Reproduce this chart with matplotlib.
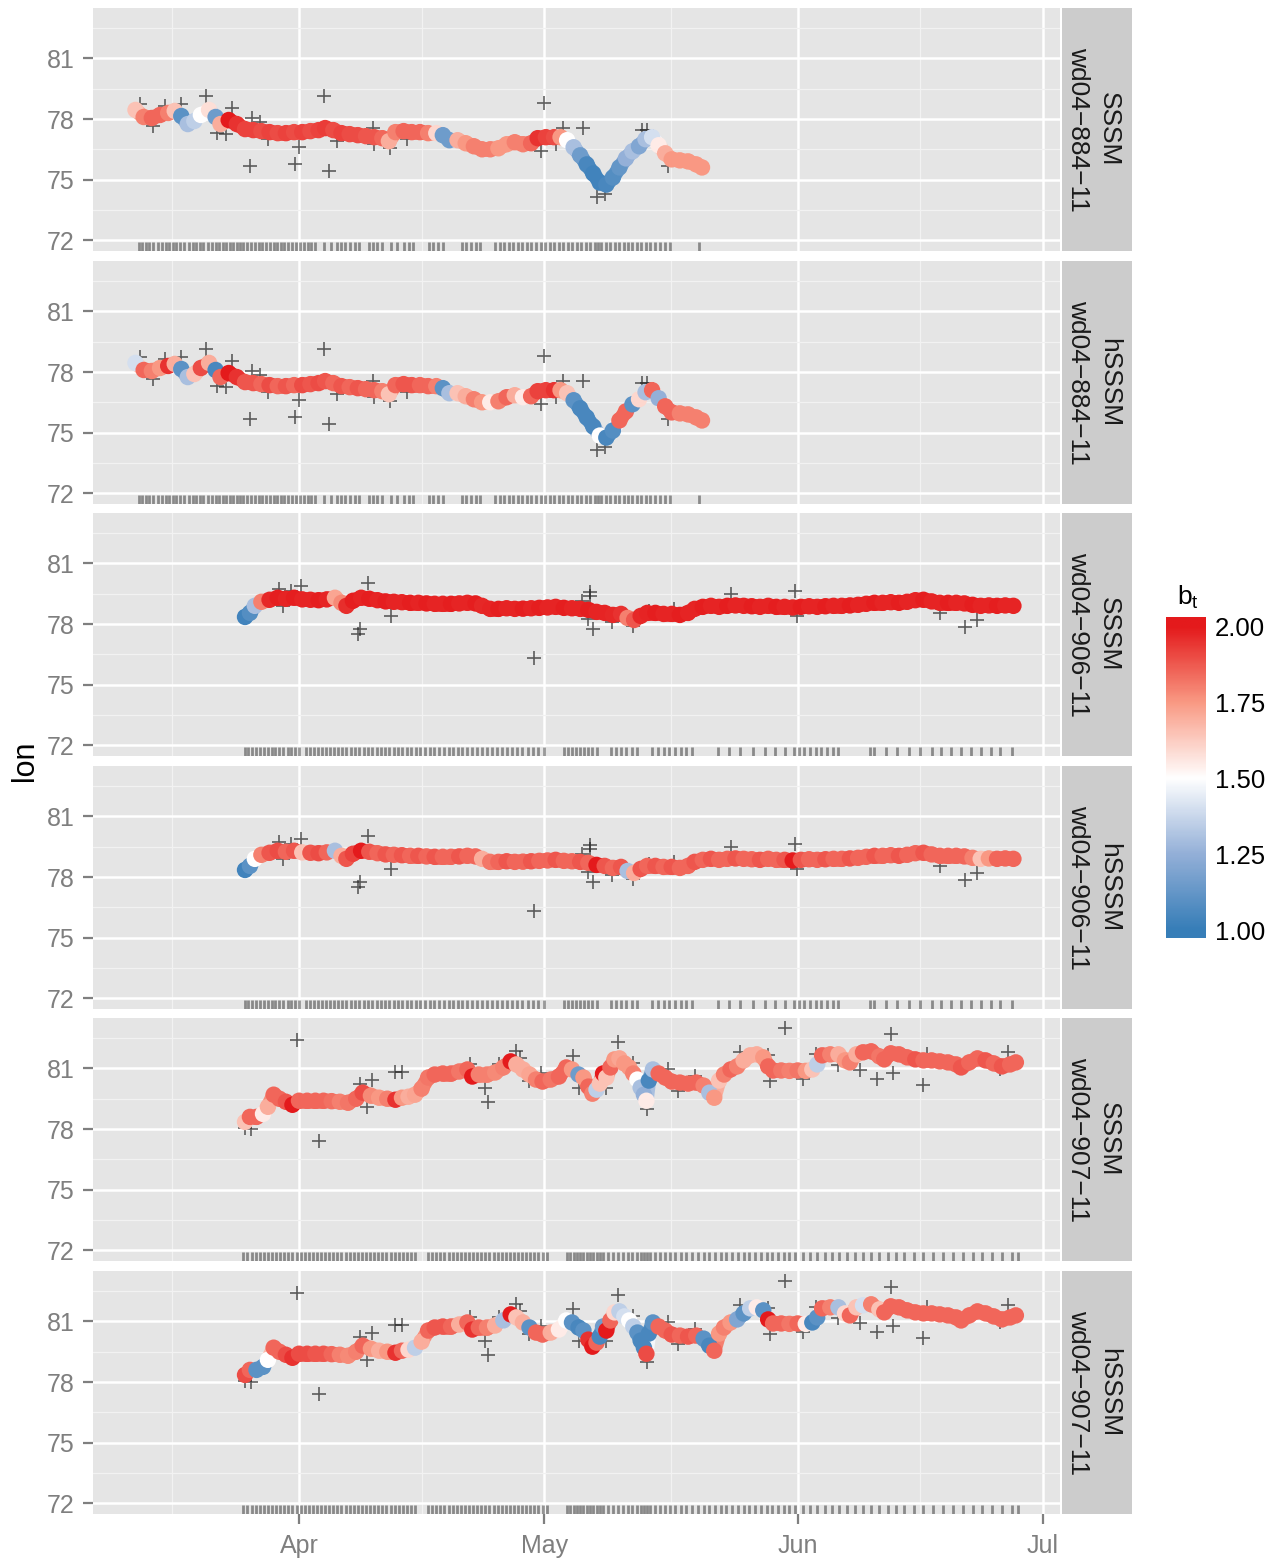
import numpy as np
import matplotlib
matplotlib.use('Agg')
import matplotlib.pyplot as plt
from matplotlib.collections import LineCollection
from matplotlib.colors import LinearSegmentedColormap, Normalize
import matplotlib.transforms as mtransforms

plt.rcParams['font.family'] = ['Liberation Sans', 'DejaVu Sans']

# days are counted from 1 April (0 = Apr 1)
month_ticks = [0, 30, 61, 91]
month_labels = ['Apr', 'May', 'Jun', 'Jul']
month_minor = [-15.5, 15, 45.5, 76]

# ---- wd04-884-11 ----
t884 = [-20.0, -19.0, -18.0, -17.0, -16.0, -15.2, -14.4, -13.6, -12.8, -12.0,
        -11.0, -10.2, -9.6, -8.6, -7.6, -6.6, -5.6, -4.6, -3.6, -2.6,
        -1.6, -0.6, 0.4, 1.4, 2.4, 3.2, 4.2, 5.2, 6.2, 7.2,
        8.2, 9.2, 10.2, 11.0, 11.8, 12.8, 13.8, 14.8, 15.8, 16.8,
        17.6, 18.4, 19.4, 20.4, 21.4, 22.4, 23.4, 24.4, 25.4, 26.4,
        27.4, 28.4, 29.2, 30.2, 31.2, 32.0, 32.8, 33.6, 34.4, 35.2,
        36.0, 36.8, 37.6, 38.4, 39.2, 40.0, 40.8, 41.6, 42.4, 43.2,
        44.0, 44.8, 45.6, 46.6, 47.6, 48.6, 49.3]
lon884 = [78.45, 78.10, 78.05, 78.20, 78.30, 78.40, 78.15, 77.75, 77.90, 78.20,
          78.45, 78.10, 77.75, 77.95, 77.75, 77.50, 77.45, 77.40, 77.35, 77.30,
          77.30, 77.35, 77.35, 77.40, 77.45, 77.55, 77.45, 77.30, 77.25, 77.20,
          77.15, 77.10, 77.05, 76.90, 77.35, 77.40, 77.35, 77.35, 77.30, 77.30,
          77.20, 76.95, 76.95, 76.80, 76.65, 76.50, 76.50, 76.55, 76.75, 76.85,
          76.75, 76.80, 77.05, 77.10, 77.10, 77.10, 76.95, 76.60, 76.20, 75.75,
          75.30, 74.85, 74.75, 75.10, 75.60, 76.05, 76.40, 76.65, 77.00, 77.10,
          76.70, 76.30, 76.00, 75.95, 75.90, 75.75, 75.60]
bt884_sssm = [1.65, 1.80, 1.85, 1.85, 1.80, 1.65, 1.10, 1.30, 1.35, 1.50,
              1.58, 1.15, 1.70, 2.00, 1.95, 1.92, 1.92, 1.90, 1.92, 1.90,
              1.92, 1.90, 1.92, 1.90, 1.92, 1.93, 1.90, 1.92, 1.90, 1.90,
              1.88, 1.88, 1.85, 1.70, 1.80, 1.85, 1.85, 1.85, 1.80, 1.60,
              1.15, 1.15, 1.70, 1.75, 1.80, 1.80, 1.80, 1.75, 1.75, 1.80,
              1.80, 1.85, 1.95, 1.92, 1.90, 1.75, 1.50, 1.30, 1.15, 1.05,
              1.03, 1.03, 1.05, 1.08, 1.12, 1.25, 1.30, 1.20, 1.30, 1.40,
              1.55, 1.70, 1.75, 1.75, 1.75, 1.75, 1.75]
bt884_hsssm = [1.40, 1.85, 1.80, 1.75, 1.95, 1.70, 1.10, 1.30, 1.65, 1.90,
               1.70, 1.05, 1.85, 2.00, 1.95, 1.88, 1.88, 1.85, 1.90, 1.85,
               1.88, 1.85, 1.90, 1.88, 1.90, 1.88, 1.85, 1.88, 1.85, 1.88,
               1.85, 1.85, 1.80, 1.65, 1.85, 1.88, 1.88, 1.85, 1.85, 1.80,
               1.10, 1.30, 1.65, 1.70, 1.80, 1.75, 1.55, 1.80, 1.85, 1.70,
               1.55, 1.85, 1.92, 1.92, 1.95, 1.75, 1.65, 1.10, 1.05, 1.05,
               1.05, 1.50, 1.05, 1.08, 1.85, 1.85, 1.10, 1.60, 1.30, 1.85,
               1.25, 1.85, 1.85, 1.80, 1.80, 1.80, 1.80]
obs884_t = [-19.5, -16.4, -17.8, -14.4, -11.4, -8.2, -10.0, -8.9, -5.8, -4.8,
            -6.0, -3.8, -0.5, 0.0, 3.1, 3.7, 4.6, 9.1, 9.2, 11.1,
            13.2, 30.0, 32.3, 34.7, 29.6, 31.4, 36.5, 37.4, 42.0, 42.6, 45.2]
obs884_lon = [78.73, 78.64, 77.65, 78.73, 79.14, 78.53, 77.33, 77.24, 78.07, 77.87,
              75.67, 77.00, 75.76, 76.62, 79.14, 75.43, 76.91, 77.57, 76.75, 76.58,
              77.00, 78.81, 77.57, 77.57, 76.42, 76.75, 74.16, 74.27, 77.45, 77.45, 75.67]
rug884 = [-19.6, -19.2, -18.7, -18.3, -17.9, -17.2, -16.8, -16.3, -15.9, -15.4,
          -15.0, -14.5, -14.1, -13.4, -13.0, -12.6, -12.1, -11.7, -11.1, -10.6,
          -10.2, -9.8, -9.3, -8.9, -8.5, -8.1, -7.6, -7.2, -6.8, -6.3,
          -5.9, -5.4, -4.9, -4.5, -4.0, -3.6, -3.1, -2.7, -2.2, -1.8,
          -1.3, -0.9, -0.4, 0.1, 0.6, 1.1, 1.5, 2.0, 3.0, 3.9,
          4.6, 5.1, 5.6, 6.2, 6.8, 7.3, 8.6, 9.1, 9.6, 10.2,
          11.2, 12.0, 12.8, 13.4, 14.0, 15.9, 16.4, 17.0, 17.6, 19.9,
          20.4, 21.0, 21.6, 22.2, 24.0, 24.6, 25.1, 25.7, 26.2, 26.8,
          27.3, 27.9, 28.4, 29.0, 29.6, 30.1, 30.7, 31.2, 31.8, 32.3,
          32.9, 33.4, 34.0, 34.5, 35.1, 35.6, 36.2, 36.6, 37.0, 37.5,
          38.0, 38.6, 39.1, 39.7, 40.2, 40.8, 41.3, 41.9, 42.5, 43.0,
          43.6, 44.2, 44.8, 45.4, 48.9]

# ---- wd04-906-11 ----
t906 = [-6.6, -6.0, -5.4, -4.6, -3.6, -2.6, -1.6, -0.6, 0.4, 1.4,
        2.4, 3.4, 4.4, 5.2, 5.8, 6.6, 7.6, 8.6, 9.6, 10.6,
        11.6, 12.6, 13.6, 14.6, 15.6, 16.6, 17.6, 18.6, 19.6, 20.6,
        21.6, 22.4, 23.4, 24.4, 25.4, 26.4, 27.4, 28.4, 29.4, 30.4,
        31.4, 32.4, 33.4, 34.4, 35.4, 36.4, 37.4, 38.4, 39.4, 40.2,
        41.0, 41.8, 42.6, 43.6, 44.6, 45.6, 46.6, 47.6, 48.4, 49.4,
        50.4, 51.4, 52.4, 53.4, 54.4, 55.4, 56.4, 57.4, 58.4, 59.4,
        60.4, 61.4, 62.4, 63.4, 64.4, 65.4, 66.4, 67.4, 68.4, 69.4,
        70.4, 71.4, 72.4, 73.4, 74.4, 75.4, 76.4, 77.4, 78.4, 79.4,
        80.4, 81.4, 82.4, 83.4, 84.4, 85.4, 86.4, 87.4]
lon906 = [78.35, 78.55, 78.90, 79.10, 79.20, 79.30, 79.25, 79.30, 79.22, 79.20,
          79.18, 79.22, 79.30, 79.05, 78.90, 79.15, 79.30, 79.25, 79.18, 79.12,
          79.10, 79.08, 79.05, 79.05, 79.02, 79.00, 79.00, 79.00, 79.02, 79.05,
          79.02, 78.90, 78.75, 78.75, 78.78, 78.75, 78.76, 78.78, 78.80, 78.82,
          78.85, 78.80, 78.78, 78.75, 78.70, 78.60, 78.55, 78.45, 78.50, 78.30,
          78.20, 78.40, 78.55, 78.55, 78.50, 78.50, 78.45, 78.55, 78.75, 78.85,
          78.90, 78.85, 78.90, 78.92, 78.90, 78.88, 78.85, 78.90, 78.85, 78.85,
          78.82, 78.85, 78.88, 78.85, 78.88, 78.90, 78.90, 78.92, 78.95, 79.00,
          79.05, 79.05, 79.08, 79.05, 79.10, 79.18, 79.20, 79.12, 79.05, 79.05,
          79.05, 79.02, 78.95, 78.90, 78.92, 78.90, 78.92, 78.90]
bt906_sssm = [1.03, 1.08, 1.30, 1.80, 1.97, 1.99, 1.98, 1.99, 1.98, 1.98,
              1.99, 1.98, 1.72, 1.78, 1.96, 1.99, 1.98, 1.99, 1.98, 1.99,
              1.98, 1.98, 1.99, 1.98, 1.99, 1.98, 1.98, 1.99, 1.98, 1.98,
              1.99, 1.97, 1.98, 1.99, 1.98, 1.98, 1.99, 1.98, 1.99, 1.98,
              1.98, 1.99, 1.98, 1.98, 1.99, 1.98, 1.98, 1.97, 1.95, 1.80,
              1.88, 1.97, 1.98, 1.99, 1.98, 1.98, 1.99, 1.98, 1.98, 1.99,
              1.98, 1.98, 1.99, 1.98, 1.98, 1.99, 1.98, 1.98, 1.99, 1.98,
              1.98, 1.99, 1.98, 1.98, 1.99, 1.98, 1.98, 1.99, 1.98, 1.98,
              1.99, 1.98, 1.98, 1.99, 1.98, 1.98, 1.99, 1.98, 1.98, 1.99,
              1.98, 1.98, 1.99, 1.98, 1.98, 1.99, 1.98, 1.98]
bt906_hsssm = [1.03, 1.10, 1.50, 1.80, 1.88, 1.90, 1.85, 1.88, 1.65, 1.88,
               1.90, 1.85, 1.30, 1.70, 1.88, 1.92, 2.00, 1.88, 1.85, 1.88,
               1.85, 1.88, 1.85, 1.88, 1.85, 1.88, 1.85, 1.85, 1.88, 1.85,
               1.85, 1.70, 1.82, 1.85, 1.88, 1.85, 1.85, 1.88, 1.85, 1.85,
               1.88, 1.85, 1.85, 1.88, 1.85, 2.00, 1.88, 1.85, 1.88, 1.30,
               1.70, 1.88, 1.85, 1.88, 1.85, 1.88, 1.85, 1.85, 1.88, 1.85,
               1.88, 1.85, 1.85, 1.88, 1.85, 1.85, 1.88, 1.85, 1.85, 1.88,
               2.00, 1.88, 1.85, 1.85, 1.88, 1.85, 1.85, 1.88, 1.85, 1.85,
               1.88, 1.85, 1.85, 1.88, 1.85, 1.85, 1.88, 1.85, 1.85, 1.85,
               1.85, 1.85, 1.80, 1.65, 1.75, 1.85, 1.85, 1.85]
obs906_t = [-2.5, -1.0, 0.3, -1.9, 8.5, 7.2, 7.5, 11.2, 28.7, 35.6,
            35.6, 34.6, 35.4, 36.0, 38.3, 52.8, 60.7, 78.4, 81.5, 83.0,
            40.9, 42.8, 45.9, 60.9]
obs906_lon = [79.71, 79.63, 79.88, 78.89, 80.01, 77.49, 77.77, 78.39, 76.34, 79.58,
              79.38, 79.14, 78.27, 77.77, 78.10, 79.47, 79.66, 78.53, 77.87, 78.20,
              77.90, 78.64, 78.72, 78.39]
rug906 = [-6.6, -6.2, -5.7, -5.2, -4.8, -4.3, -3.8, -3.3, -2.9, -2.4,
          -1.9, -1.4, -1.0, -0.5, 0.0, 0.8, 1.3, 1.8, 2.3, 2.8,
          3.3, 3.8, 4.3, 4.8, 5.3, 5.8, 6.4, 6.9, 7.4, 7.9,
          8.4, 8.9, 9.5, 10.0, 10.5, 11.0, 11.6, 12.1, 12.6, 13.2,
          13.7, 14.3, 14.8, 15.4, 16.0, 16.5, 17.1, 17.7, 18.3, 18.8,
          19.4, 20.0, 20.6, 21.2, 21.8, 22.4, 23.0, 23.6, 24.2, 24.8,
          25.4, 26.0, 26.7, 27.3, 28.0, 28.6, 29.3, 30.0, 32.4, 32.9,
          33.4, 33.9, 34.4, 34.9, 35.4, 35.9, 36.4, 38.2, 38.8, 39.4,
          40.0, 40.7, 41.4, 43.2, 43.9, 44.6, 45.3, 46.0, 46.7, 47.4,
          48.1, 51.3, 52.6, 54.0, 55.5, 57.0, 58.2, 59.4, 60.6, 61.2,
          61.8, 62.5, 63.2, 63.9, 64.6, 65.3, 66.0, 69.8, 70.4, 71.8,
          73.2, 74.6, 76.0, 77.4, 78.6, 79.8, 81.0, 82.2, 83.4, 84.6,
          85.8, 87.2]

# ---- wd04-907-11 ----
t907 = [-6.6, -6.0, -5.2, -4.4, -3.8, -3.1, -2.4, -1.6, -0.8, 0.0,
        1.0, 2.0, 3.0, 4.0, 5.0, 6.0, 7.0, 7.8, 8.8, 9.8,
        10.8, 11.8, 12.6, 13.4, 14.2, 15.0, 15.8, 16.6, 17.6, 18.6,
        19.6, 20.6, 21.2, 22.0, 23.0, 24.0, 25.0, 25.9, 26.6, 27.4,
        28.2, 29.0, 29.8, 30.8, 31.8, 32.7, 33.4, 34.2, 34.8, 35.4,
        35.9, 36.4, 36.8, 37.2, 37.6, 38.1, 38.6, 39.2, 39.8, 40.4,
        40.9, 41.4, 41.8, 42.2, 42.5, 42.8, 43.3, 44.0, 44.8, 45.6,
        46.6, 47.6, 48.6, 49.5, 50.2, 50.8, 51.4, 52.0, 52.8, 53.6,
        54.4, 55.2, 56.0, 56.8, 57.4, 58.0, 59.0, 60.0, 61.0, 62.0,
        62.8, 63.4, 64.0, 65.0, 66.0, 66.8, 67.4, 68.2, 69.0, 70.0,
        71.0, 71.6, 72.4, 73.4, 74.4, 75.4, 76.4, 77.4, 78.4, 79.4,
        80.4, 81.0, 82.0, 83.0, 84.0, 85.0, 86.0, 87.0, 87.7]
lon907 = [78.35, 78.60, 78.60, 78.75, 79.10, 79.70, 79.50, 79.35, 79.20, 79.40,
          79.40, 79.40, 79.40, 79.38, 79.35, 79.30, 79.50, 79.80, 79.65, 79.55,
          79.50, 79.45, 79.55, 79.60, 79.70, 80.00, 80.55, 80.70, 80.75, 80.75,
          80.85, 80.95, 80.60, 80.70, 80.70, 80.80, 81.05, 81.35, 81.20, 80.95,
          80.70, 80.45, 80.35, 80.45, 80.60, 81.05, 80.95, 80.70, 80.55, 80.10,
          79.75, 79.95, 80.25, 80.75, 80.55, 81.05, 81.45, 81.50, 81.25, 81.05,
          80.75, 80.45, 80.05, 79.70, 79.40, 80.40, 80.95, 80.75, 80.55, 80.35,
          80.30, 80.25, 80.30, 80.15, 79.80, 79.55, 80.40, 80.70, 80.95, 81.10,
          81.40, 81.65, 81.70, 81.55, 81.10, 80.90, 80.90, 80.88, 80.90, 80.88,
          80.95, 81.20, 81.65, 81.70, 81.70, 81.40, 81.30, 81.70, 81.80, 81.85,
          81.60, 81.45, 81.75, 81.70, 81.55, 81.45, 81.40, 81.40, 81.35, 81.30,
          81.20, 81.05, 81.30, 81.50, 81.40, 81.25, 81.10, 81.20, 81.30]
bt907_sssm = [1.65, 1.85, 1.85, 1.55, 1.70, 1.85, 1.85, 1.88, 2.00, 1.85,
              1.85, 1.85, 1.85, 1.83, 1.80, 1.82, 1.85, 1.90, 1.78, 1.75,
              1.80, 1.95, 1.75, 1.70, 1.72, 1.80, 1.82, 1.85, 1.85, 1.85,
              1.82, 1.85, 2.00, 1.80, 1.80, 1.78, 1.80, 2.00, 1.70, 1.70,
              1.72, 1.80, 1.85, 1.82, 1.85, 1.85, 1.75, 1.15, 1.75, 1.85,
              1.80, 1.35, 1.65, 2.00, 1.65, 1.85, 1.75, 1.72, 1.75, 1.75,
              1.80, 1.50, 1.30, 1.25, 1.55, 1.05, 1.30, 1.85, 1.85, 1.85,
              1.85, 1.85, 1.85, 1.80, 1.30, 1.75, 1.65, 1.80, 1.85, 1.80,
              1.70, 1.70, 1.70, 1.75, 1.85, 1.85, 1.82, 1.80, 1.82, 1.75,
              1.65, 1.35, 1.85, 1.80, 1.70, 1.75, 1.80, 1.70, 1.85, 1.85,
              1.82, 1.85, 1.85, 1.85, 1.85, 1.88, 1.85, 1.85, 1.85, 1.85,
              1.85, 1.88, 1.85, 1.85, 1.88, 1.85, 1.88, 1.85, 1.85]
bt907_hsssm = [1.90, 1.85, 1.10, 1.10, 1.50, 1.85, 1.85, 1.90, 1.95, 1.90,
               1.90, 1.88, 1.88, 1.85, 1.80, 1.78, 1.80, 1.85, 1.75, 1.70,
               1.75, 1.95, 1.85, 1.60, 1.35, 1.70, 1.85, 1.88, 1.88, 1.85,
               1.70, 1.85, 1.95, 1.85, 1.80, 1.70, 1.30, 2.00, 1.65, 1.70,
               1.10, 1.85, 1.85, 1.70, 1.55, 1.50, 1.10, 1.05, 1.10, 1.95,
               2.00, 1.85, 1.05, 1.15, 2.00, 1.85, 1.60, 1.35, 1.40, 1.50,
               1.35, 1.10, 1.05, 1.05, 1.90, 1.05, 1.10, 1.85, 1.85, 1.88,
               1.85, 1.88, 1.85, 1.10, 1.05, 1.85, 1.75, 1.80, 1.75, 1.20,
               1.10, 1.35, 1.55, 1.10, 2.00, 1.85, 1.85, 1.82, 1.85, 1.55,
               1.05, 1.10, 1.85, 1.80, 1.30, 1.60, 1.85, 1.65, 1.40, 1.80,
               1.65, 1.85, 1.85, 1.85, 1.85, 1.85, 1.85, 1.85, 1.85, 1.85,
               1.85, 1.85, 1.85, 1.85, 1.85, 1.85, 1.85, 1.85, 1.85]
obs907_t = [-6.6, -5.9, -0.3, 2.5, 7.5, 8.3, 8.9, 11.8, 12.6, 20.9,
            22.7, 23.1, 24.5, 26.5, 27.0, 28.1, 29.6, 33.5, 34.3, 37.5,
            39.0, 40.9, 42.6, 45.1, 46.4, 48.4, 54.0, 57.4, 57.6, 59.4,
            61.6, 63.2, 65.9, 68.6, 70.7, 72.4, 72.7, 76.4, 76.8, 86.7, 85.8]
obs907_lon = [78.07, 77.98, 82.43, 77.41, 80.21, 79.09, 80.42, 80.82, 80.82, 81.20,
              80.04, 79.33, 81.20, 81.86, 81.53, 80.37, 80.79, 81.64, 80.04, 80.01,
              82.32, 81.28, 78.97, 80.95, 79.88, 80.62, 81.83, 81.66, 80.37, 82.98,
              80.49, 81.74, 81.15, 80.92, 80.46, 82.72, 80.79, 80.16, 81.73, 81.83, 80.95]
rug907 = [-6.8, -6.3, -5.8, -5.3, -4.8, -4.3, -3.8, -3.3, -2.8, -2.3,
          -1.8, -1.3, -0.8, -0.3, 0.2, 0.7, 1.2, 1.7, 2.2, 2.7,
          3.2, 3.7, 4.2, 4.7, 5.2, 5.7, 6.2, 6.7, 7.2, 7.7,
          8.2, 8.7, 9.2, 9.7, 10.2, 10.7, 11.2, 11.7, 12.2, 12.7,
          13.2, 13.7, 14.2, 15.8, 16.3, 16.8, 17.3, 17.8, 18.3, 18.8,
          19.3, 19.8, 20.3, 20.8, 21.3, 21.8, 22.3, 22.8, 23.3, 23.8,
          24.3, 24.8, 25.3, 25.8, 26.3, 26.8, 27.3, 27.8, 28.3, 28.8,
          29.3, 29.8, 30.3, 32.8, 33.2, 33.6, 34.0, 34.4, 34.8, 35.2,
          35.6, 36.0, 36.4, 36.8, 37.2, 37.8, 38.4, 39.0, 39.6, 40.2,
          40.8, 41.3, 41.8, 42.2, 42.6, 43.0, 43.6, 44.2, 44.8, 45.4,
          46.0, 46.7, 47.4, 48.1, 48.8, 49.5, 50.2, 50.9, 51.6, 52.3,
          53.0, 53.7, 54.4, 55.1, 55.8, 56.5, 57.2, 57.9, 58.6, 59.3,
          60.0, 60.7, 61.6, 62.5, 63.4, 64.3, 65.2, 66.1, 67.0, 68.0,
          69.0, 70.0, 71.0, 72.0, 73.0, 74.0, 75.2, 76.4, 77.6, 78.8,
          80.0, 81.2, 82.4, 83.6, 84.8, 86.0, 87.2, 88.0]

panels = [
    ('wd04\u2212884\u221211', 'SSSM', t884, lon884, bt884_sssm, obs884_t, obs884_lon, rug884),
    ('wd04\u2212884\u221211', 'hSSSM', t884, lon884, bt884_hsssm, obs884_t, obs884_lon, rug884),
    ('wd04\u2212906\u221211', 'SSSM', t906, lon906, bt906_sssm, obs906_t, obs906_lon, rug906),
    ('wd04\u2212906\u221211', 'hSSSM', t906, lon906, bt906_hsssm, obs906_t, obs906_lon, rug906),
    ('wd04\u2212907\u221211', 'SSSM', t907, lon907, bt907_sssm, obs907_t, obs907_lon, rug907),
    ('wd04\u2212907\u221211', 'hSSSM', t907, lon907, bt907_hsssm, obs907_t, obs907_lon, rug907),
]

cmap = LinearSegmentedColormap.from_list(
    'bt', [(0.0, '#377EB8'), (0.25, '#94B0D8'), (0.5, '#FFFFFF'),
           (0.75, '#F99A84'), (1.0, '#E41A1C')])
norm = Normalize(1.0, 2.0)

W, H = 1285, 1562
fig = plt.figure(figsize=(W / 100, H / 100), dpi=100)

tops = [8, 261, 513, 766, 1018, 1271]
ph = 243
x0, x1 = 93, 1060
sx0, sx1 = 1062, 1132
tick_grey = '#7F7F7F'

for i, (animal, model, t, lon, bt, ot, olon, rug) in enumerate(panels):
    top = tops[i]
    ax = fig.add_axes([x0 / W, 1 - (top + ph) / H, (x1 - x0) / W, ph / H])
    ax.set_facecolor('#E5E5E5')
    for s in ax.spines.values():
        s.set_visible(False)
    ax.set_xlim(-25.2, 93.1)
    ax.set_ylim(71.46, 83.5)
    ax.set_xticks(month_ticks)
    ax.set_xticks(month_minor, minor=True)
    ax.set_yticks([72, 75, 78, 81])
    ax.set_yticks([73.5, 76.5, 79.5, 82.5], minor=True)
    ax.grid(which='major', color='white', lw=1.8)
    ax.grid(which='minor', color='#F2F2F2', lw=0.9)
    ax.set_axisbelow(True)
    ax.tick_params(axis='y', which='major', length=7.5, width=1.6, color=tick_grey,
                   labelsize=18, labelcolor=tick_grey, pad=6)
    ax.tick_params(which='minor', length=0)
    if i == len(panels) - 1:
        ax.set_xticklabels(month_labels)
        ax.tick_params(axis='x', which='major', length=7.5, width=1.6, color=tick_grey,
                       labelsize=18, labelcolor=tick_grey, pad=7)
    else:
        ax.tick_params(axis='x', which='major', length=0, labelbottom=False)

    # observations
    ax.plot(ot, olon, linestyle='none', marker='+', ms=9.5, mew=1.2,
            color='#222222', alpha=0.7, zorder=2)

    # rug of observation times
    trans = mtransforms.blended_transform_factory(ax.transData, ax.transAxes)
    ax.vlines(rug, 0, 0.036, transform=trans, color='black', alpha=0.4, lw=2.0, zorder=2)

    # fitted track coloured by b_t
    t = np.asarray(t)
    lon = np.asarray(lon)
    bt = np.asarray(bt)
    pts = np.column_stack([t, lon])
    segs = np.stack([pts[:-1], pts[1:]], axis=1)
    seg_col = cmap(norm((bt[:-1] + bt[1:]) / 2))
    lc = LineCollection(segs, colors=seg_col, linewidths=10.5, capstyle='round', zorder=3)
    ax.add_collection(lc)
    ax.scatter(t, lon, c=bt, cmap=cmap, norm=norm, s=140, edgecolors='none', zorder=4)

    # facet strip
    sax = fig.add_axes([sx0 / W, 1 - (top + ph) / H, (sx1 - sx0) / W, ph / H])
    sax.set_facecolor('#CCCCCC')
    sax.set_xticks([])
    sax.set_yticks([])
    for s in sax.spines.values():
        s.set_visible(False)
    sax.text(0.45, 0.5, model + '\n' + animal, rotation=-90, ha='center', va='center',
             multialignment='center', fontsize=19, color='#1A1A1A',
             linespacing=1.35, transform=sax.transAxes)

fig.text(25 / W, 1 - 761 / H, 'lon', rotation=90, ha='center', va='center', fontsize=22)

# colour bar legend
cax = fig.add_axes([1166 / W, 1 - 938 / H, 40 / W, 321 / H])
grad = np.linspace(0.974, 2.03, 300).reshape(-1, 1)
cax.imshow(grad, cmap=cmap, norm=norm, aspect='auto', origin='lower',
           extent=[0, 1, 0.974, 2.03])
cax.set_xlim(0, 1)
cax.set_ylim(0.974, 2.03)
cax.set_xticks([])
cax.yaxis.tick_right()
cax.set_yticks([1.0, 1.25, 1.5, 1.75, 2.0])
cax.set_yticklabels(['1.00', '1.25', '1.50', '1.75', '2.00'])
cax.tick_params(axis='y', length=0, labelsize=18.5, labelcolor='black', pad=6.5)
for s in cax.spines.values():
    s.set_visible(False)
fig.text(1188 / W, 1 - 597 / H, r'$\mathregular{b_t}$', ha='center', va='center', fontsize=19)

fig.savefig('out.png', dpi=100)
